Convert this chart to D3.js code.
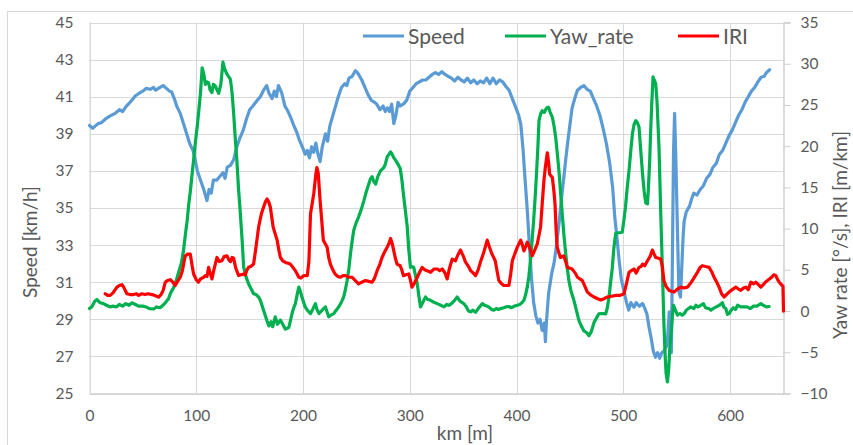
<!DOCTYPE html>
<html>
<head>
<meta charset="utf-8">
<script src="https://cdn.jsdelivr.net/npm/d3@7"></script>
<style>
  body { margin: 0; background: #fff; }
  svg text { font-family: Lato, "Open Sans", sans-serif; fill: #595959; }
</style>
</head>
<body>
<svg width="853" height="445"></svg>
<script>
    // tick values
    var xTicks = [0, 100, 200, 300, 400, 500, 600];
    var speedTicks = [25, 27, 29, 31, 33, 35, 37, 39, 41, 43, 45];
    var rightTicks = [-10, -5, 0, 5, 10, 15, 20, 25, 30, 35];
    var seriesNames = ["Speed", "Yaw_rate", "IRI"];

    // [km, km/h]
    var speed = [
        [0,39.45],[3,39.3],[5,39.4],[8,39.55],[11,39.6],[15,39.8],[19,39.95],[24,40.1],[28,40.3],[31,40.2],
        [34,40.45],[38,40.7],[41,40.9],[43,41.05],[47,41.2],[50,41.3],[53,41.45],[57,41.4],[60,41.5],[62,41.35],
        [66,41.5],[69,41.6],[72,41.45],[75,41.3],[77,41.25],[80,40.8],[82,40.45],[85,40.1],[88,39.55],[91,39.0],
        [94,38.45],[97,38.1],[99,37.6],[101,37.0],[104,36.5],[107,36.0],[110,35.4],[112,36.0],[114,35.8],[116,36.5],
        [119,36.5],[122,36.7],[125,36.9],[127,36.6],[129,37.2],[132,37.3],[135,37.6],[138,38.3],[141,38.8],[144,39.2],
        [147,39.8],[150,40.3],[153,40.5],[157,40.8],[160,41.0],[163,41.35],[166,41.6],[168,41.2],[171,40.9],[173,41.3],
        [175,41.0],[177,41.6],[180,41.2],[183,40.5],[186,40.2],[189,39.8],[191,39.5],[194,39.1],[197,38.6],[200,38.2],
        [202,37.9],[204,38.1],[206,37.7],[208,38.3],[210,38.0],[212,38.5],[214,37.9],[216,37.5],[218,38.3],[221,39.0],
        [223,38.6],[225,39.4],[228,40.0],[230,40.4],[233,41.0],[236,41.5],[239,41.7],[241,41.6],[243,42.0],[246,42.1],
        [249,42.4],[251,42.3],[253,42.1],[255,41.9],[258,41.5],[261,41.1],[264,40.8],[267,40.7],[269,40.6],[272,40.3],
        [275,40.5],[277,40.2],[279,40.4],[281,40.2],[283,40.6],[285,39.55],[287,40.0],[289,40.7],[291,40.5],[294,40.6],
        [297,40.8],[300,41.3],[303,41.5],[306,41.7],[309,41.8],[312,41.9],[315,41.9],[318,42.05],[321,42.2],[324,42.3],
        [327,42.2],[330,42.35],[333,42.2],[336,42.1],[339,42.0],[342,41.85],[345,42.05],[348,41.9],[351,41.8],[354,42.0],
        [357,41.75],[360,41.9],[363,41.7],[366,41.85],[369,41.75],[372,42.0],[375,41.7],[378,42.0],[381,41.7],[384,41.9],
        [387,41.8],[390,41.55],[393,41.35],[396,40.9],[399,40.45],[402,40.0],[404,39.5],[406,38.2],[408,36.5],[410,34.9],
        [412,33.0],[414,31.2],[416,29.9],[418,29.2],[420,28.8],[422,29.0],[424,28.4],[426,28.8],[427,27.8],[428,28.9],
        [430,30.4],[433,31.5],[435,32.0],[437,32.8],[440,34.3],[442,35.5],[444,36.5],[446,37.6],[448,38.6],[450,39.5],
        [452,40.4],[455,41.0],[457,41.35],[460,41.5],[463,41.6],[466,41.4],[469,41.3],[472,40.9],[475,40.5],[478,40.0],
        [481,39.3],[484,38.5],[487,37.5],[490,36.1],[492,34.5],[494,33.4],[496,32.2],[498,31.2],[501,30.4],[503,29.9],
        [505,29.5],[507,29.9],[510,29.65],[512,29.9],[515,29.7],[518,29.85],[520,29.6],[522,29.3],[524,28.6],[526,28.0],
        [528,27.3],[530,26.95],[532,27.2],[534,26.9],[536,27.2],[538,27.3],[541,27.6],[543,29.4],[545,27.2],[547,38.0],
        [548,40.1],[549,38.0],[552,30.5],[553.5,30.2],[556,33.5],[557,34.3],[559,34.8],[562,35.1],[564,35.5],[566,35.8],
        [569,35.7],[572,36.0],[575,36.2],[578,36.6],[581,36.8],[584,37.2],[587,37.4],[590,37.9],[593,38.1],[596,38.5],
        [599,38.9],[602,39.2],[605,39.6],[608,40.0],[611,40.3],[614,40.7],[617,41.0],[620,41.3],[623,41.5],[626,41.8],
        [629,42.05],[632,42.1],[634,42.3],[636,42.4],[637,42.45]
    ];

    // [km, deg/s]
    var yawRate = [
        [0,0.3],[2,0.5],[5,1.2],[7,1.4],[10,1.0],[13,0.9],[16,0.7],[19,0.5],[22,0.6],[25,0.5],[28,0.8],[31,0.6],
        [34,0.9],[37,0.7],[40,1.0],[43,0.8],[46,0.6],[50,0.6],[53,0.5],[56,0.3],[60,0.25],[63,0.5],[66,0.4],[68,0.6],
        [71,1.0],[74,1.5],[76,2.2],[79,2.9],[81,3.6],[83,4.5],[86,5.8],[88,7.3],[90,9.5],[91.5,11.0],[93,13.0],
        [94.5,14.6],[96,16.5],[97.5,18.3],[99,20.3],[101,22.5],[102.5,24.5],[104,26.5],[105.5,29.5],[107,28.8],
        [108.5,27.5],[110,27.8],[111.5,27.7],[113,26.8],[114.7,26.5],[116,27.5],[117.8,27.3],[119.5,26.8],[121,26.4],
        [123,27.5],[125,30.2],[126.5,29.4],[128.5,28.8],[130,28.5],[132,28.1],[133.5,26.5],[135,24.0],[136.5,21.0],
        [138,18.3],[139.5,15.0],[141.3,11.8],[143,8.5],[144.4,5.3],[147,4.0],[149,3.3],[151,2.8],[153.7,2.1],[156,2.0],
        [158.4,1.7],[160,1.3],[163,0.1],[165,-0.7],[166.3,-1.2],[168,-1.8],[170,-1.3],[171.5,-1.9],[174,-0.7],[176,-1.6],
        [178.8,-1.1],[181,-1.6],[183.5,-2.2],[185,-2.1],[186.6,-2.0],[188,-1.3],[189.7,-0.3],[191,0.3],[192.8,0.9],
        [194.5,2.0],[196,2.9],[197.5,2.4],[199,1.7],[201,0.9],[202,0.5],[204,0.1],[207,-0.3],[209,0.2],[211.6,0.9],
        [213,0.2],[215,-0.3],[217.9,0.1],[221,0.5],[222.5,-0.1],[224,-0.7],[226,-0.5],[228.8,-0.3],[231,0.1],[233.4,0.5],
        [236,1.1],[238,1.7],[239.5,2.5],[241.3,3.7],[243,5.2],[244.4,6.9],[246,8.5],[247.5,9.8],[250,10.8],[252,11.4],
        [254.5,12.3],[257,13.4],[259.5,14.6],[261.6,15.4],[263,16.0],[264.7,16.3],[266,15.8],[268,15.4],[270,16.3],
        [272.5,17.0],[275.6,17.4],[277,17.8],[278.8,18.7],[280.5,19.0],[282,19.3],[283.5,19.0],[285,18.6],[286.6,18.3],
        [289,17.8],[291,17.3],[292.5,16.0],[294,14.2],[296,12.0],[297.6,10.2],[299,7.5],[300.6,5.3],[302,5.4],[303.7,5.3],
        [305,4.5],[307,3.3],[308.5,1.8],[310,0.5],[312,1.0],[314.7,1.7],[317,1.4],[319.4,1.3],[322,1.1],[325.7,0.9],
        [329,0.7],[332,0.5],[334.5,0.8],[336.6,0.7],[339,0.9],[342,1.3],[344.4,1.7],[347,1.2],[350.6,0.9],[353,0.5],
        [355,0.0],[357,-0.1],[359,0.1],[361.6,-0.15],[364,0.3],[366,0.6],[368,0.9],[370,0.7],[372,0.6],[374,0.5],
        [376.5,0.2],[378.7,0.1],[381,0.3],[383,0.2],[385,0.3],[388,0.4],[390,0.5],[392.8,0.55],[395,0.4],[398,0.6],
        [400.7,0.7],[403,0.8],[405,1.0],[406.9,1.3],[408.5,2.0],[410,2.9],[411.5,4.2],[413,6.1],[414.5,8.5],[416,11.0],
        [417.5,14.0],[418.8,17.0],[420,20.0],[421,23.1],[422.5,23.9],[424,24.3],[426,24.1],[427.5,24.5],[428.8,24.7],
        [430,24.7],[431.5,24.1],[433.5,23.5],[435,22.5],[436.6,21.1],[438,19.3],[439.7,17.0],[441.3,14.2],[443,11.4],
        [444.5,9.0],[446,7.0],[447.5,5.2],[449,3.7],[451,2.4],[453.7,1.3],[456,0.1],[458.4,-1.15],[461,-1.9],[463,-2.4],
        [465.5,-2.6],[467.8,-3.0],[470,-2.5],[472.5,-1.4],[475,-0.8],[477,-0.35],[480,-0.3],[483.5,-0.35],[485,0.4],
        [486.6,1.7],[488,3.4],[489.7,5.3],[491,7.5],[492.8,9.4],[495,9.5],[497,9.5],[499,9.6],[500.5,11.0],[502,12.6],
        [503.5,14.8],[505.3,17.0],[507,19.5],[508.5,21.5],[510,22.6],[511.6,23.1],[513,22.9],[514.7,22.3],[516,20.0],
        [518,16.6],[519.5,14.5],[521,13.1],[522.6,13.0],[523.5,15.0],[524.7,18.3],[525.5,21.5],[526.6,25.1],[527.8,28.4],
        [529,28.0],[530.3,27.6],[531.5,25.5],[532.5,22.5],[533.4,19.9],[535,12.0],[536.6,4.9],[538,-1.5],[539,-5.0],
        [540,-7.5],[541.3,-8.6],[542.5,-7.0],[543.5,-4.5],[544.4,-3.2],[546,-0.5],[547,0.7],[548.5,0.2],[550.7,-0.5],
        [553,-0.3],[555,-0.5],[557,-0.3],[559,0.1],[561,0.3],[563,0.5],[566,0.3],[568,0.7],[570,0.5],[572.5,0.7],
        [575,0.9],[577,0.4],[580,0.3],[582,0.1],[584,0.3],[587,0.5],[590,0.7],[592.8,1.0],[594,0.5],[596,0.3],
        [597.5,-0.4],[599,-0.3],[601,0.1],[603,0.4],[605,0.2],[607,0.7],[610,0.5],[613,0.5],[616,0.5],[619,0.3],
        [622,0.6],[625,0.6],[628.8,0.9],[631,0.7],[634,0.5],[636.5,0.55]
    ];

    // [km, m/km]
    var iri = [
        [14.7,2.1],[17,1.9],[19.4,1.9],[22,2.2],[25.7,2.9],[28,3.1],[30.4,3.2],[32,2.9],[35,2.1],[38,2.0],[41.2,2.0],
        [44,2.1],[46,1.9],[49,2.1],[52,2.0],[55,2.1],[58.5,2.0],[61,1.9],[63,1.8],[64.7,1.7],[67,2.0],[69,2.5],[71,3.5],
        [73,3.7],[75.7,3.8],[78,3.5],[80.3,3.1],[82,3.5],[85,4.1],[87,4.9],[89.7,6.7],[92,6.9],[94.4,6.9],[96,5.6],
        [97.5,4.5],[100,3.8],[102,3.5],[104,3.9],[107,4.1],[108.5,4.3],[110,4.2],[111.6,5.3],[113,4.6],[114.7,3.9],
        [116.5,5.0],[119.4,6.5],[121.5,6.0],[124,6.1],[126,6.6],[128.8,6.7],[130.5,6.2],[132,6.0],[133.5,6.5],[135,6.4],
        [137,5.2],[139.7,4.3],[142,4.4],[144.4,4.5],[146,4.4],[147.5,5.0],[149,5.3],[151,5.4],[153.7,5.7],[156,7.8],
        [158.4,10.2],[161,11.8],[163,12.6],[165,13.3],[166.3,13.6],[168,13.2],[169.4,12.6],[172,10.2],[175.7,8.6],
        [177.5,7.3],[178.8,6.5],[181,6.1],[183.5,5.9],[186,5.8],[188,5.7],[190.5,5.3],[192.8,4.9],[194.5,4.5],[196,4.1],
        [198,4.0],[200.6,4.3],[204,4.3],[205.5,6.0],[207,11.8],[210,14.2],[212,16.6],[213,17.4],[214.2,16.8],[216,13.4],
        [217.5,11.0],[219,8.6],[222.6,7.75],[224,6.5],[225.6,5.7],[227.5,5.1],[230,4.5],[232.5,4.2],[235,4.1],
        [237.5,4.3],[239.7,4.3],[243,4.1],[246,4.1],[249,3.7],[252,3.3],[255,3.5],[258.4,3.7],[261.5,3.6],[264.7,3.5],
        [267,4.0],[269.4,4.9],[272,5.7],[274,6.5],[276.5,7.2],[278.8,7.75],[280.5,8.2],[282,8.8],[283.5,8.2],[285,7.3],
        [286.5,6.4],[288,5.7],[291,5.5],[292.5,5.0],[294,4.3],[296.5,4.4],[299,4.5],[300.5,3.8],[302,2.9],[304,3.3],
        [307,4.1],[309.5,4.8],[311.6,5.3],[314,5.0],[316,4.9],[319.4,4.7],[322.5,5.1],[325.7,5.1],[328,4.9],[330.4,5.1],
        [333,4.6],[335,3.9],[337,5.1],[339.7,6.3],[342.8,6.1],[345,6.8],[347.5,7.4],[350,6.7],[352,6.0],[355,5.4],
        [357,4.9],[359.5,4.6],[361.6,4.3],[364,5.0],[366.3,6.0],[369,7.0],[372.5,8.6],[374.5,7.8],[377,6.9],[380,6.1],
        [381.5,5.0],[383.4,3.7],[386,3.3],[388,3.1],[392.8,3.1],[394.5,4.5],[396,6.1],[398.5,7.0],[400.7,7.75],
        [403.8,8.6],[405.5,8.0],[406.9,7.3],[408.5,7.8],[410,8.35],[412.5,7.6],[414.7,6.7],[417,7.4],[419.4,8.15],
        [421,9.2],[422.5,10.2],[424,13.0],[425.6,15.8],[427,17.5],[428.8,19.2],[430,18.0],[431,16.6],[433.5,16.2],
        [435,14.5],[436,13.0],[437,10.0],[438,7.75],[441,6.5],[444,6.7],[446,6.0],[447.5,5.3],[452,5.1],[455,4.6],
        [457,4.1],[461.6,3.7],[464,3.0],[466.3,2.3],[469,2.0],[472.5,1.7],[476,1.5],[478.8,1.35],[482,1.5],[485,1.7],
        [489,1.8],[492.8,1.9],[497,1.9],[500.6,2.1],[503,3.4],[505.3,4.7],[507.5,4.9],[510,5.1],[512,4.6],[514.7,5.3],
        [516.5,5.4],[518,5.7],[520,5.5],[522.6,6.1],[525,6.6],[527.2,7.4],[528.5,7.0],[530.3,6.5],[533,6.4],[535,6.3],
        [536.5,5.4],[538,3.7],[540,3.0],[543,2.5],[545,2.4],[547.5,2.3],[550,2.6],[553.8,2.9],[557,2.8],[560,2.9],
        [562.5,3.3],[564.7,3.7],[567,4.2],[569.4,4.7],[572,5.3],[574,5.5],[577,5.4],[580.3,5.3],[583,4.7],[585,4.1],
        [587.5,3.5],[589.7,2.9],[592,2.1],[594.4,1.7],[596.5,2.0],[599,2.3],[602,2.6],[605.3,2.9],[607.5,2.7],[610,2.5],
        [612.5,2.8],[614.7,2.9],[617,2.6],[619.4,3.5],[622,3.3],[624,3.5],[626.5,3.2],[628.8,2.9],[631,3.2],[633,3.5],
        [635,3.7],[638,4.0],[641,4.4],[642.8,4.3],[644.5,3.8],[646,3.5],[649.5,3.0],[650,0]
    ];

    var svg = d3.select("svg");
    var plotLeft = 89.5, plotRight = 783.5, plotTop = 22.5, plotBottom = 393.5;

    var x = d3.scaleLinear().domain([0, 650]).range([plotLeft, plotRight]);
    var yL = d3.scaleLinear().domain([25, 45]).range([plotBottom, plotTop]);
    var yR = d3.scaleLinear().domain([-10, 35]).range([plotBottom, plotTop]);

    // chart area border
    svg.append("rect")
        .attr("x", 7.5).attr("y", 11.5)
        .attr("width", 900).attr("height", 500)
        .attr("fill", "#fff").attr("stroke", "#d9d9d9");

    // grid
    svg.append("g").selectAll("line").data(speedTicks).enter().append("line")
        .attr("x1", plotLeft).attr("x2", plotRight)
        .attr("y1", function(d) { return Math.round(yL(d)) + 0.5; })
        .attr("y2", function(d) { return Math.round(yL(d)) + 0.5; })
        .attr("stroke", "#d9d9d9");
    svg.append("g").selectAll("line").data(xTicks).enter().append("line")
        .attr("x1", function(d) { return Math.round(x(d)) + 0.5; })
        .attr("x2", function(d) { return Math.round(x(d)) + 0.5; })
        .attr("y1", plotTop).attr("y2", plotBottom)
        .attr("stroke", "#d9d9d9");

    // axes
    var gx = svg.append("g").attr("transform", "translate(0," + plotBottom + ")")
        .call(d3.axisBottom(x).tickValues(xTicks).tickSize(0).tickPadding(16));
    var gl = svg.append("g").attr("transform", "translate(" + plotLeft + ",0)")
        .call(d3.axisLeft(yL).tickValues(speedTicks).tickSize(0).tickPadding(16));
    var gr = svg.append("g").attr("transform", "translate(" + plotRight + ",0)")
        .call(d3.axisRight(yR).tickValues(rightTicks).tickSize(7).tickPadding(10));

    [gx, gl, gr].forEach(function(g) {
        g.select(".domain").attr("stroke", "#d0d0d0").attr("stroke-width", 1.5);
        g.selectAll(".tick line").attr("stroke", "#d0d0d0");
        g.selectAll(".tick text").attr("fill", "#595959")
            .style("font-size", "15.5px")
            .style("font-family", "Lato, 'Open Sans', sans-serif");
    });
    gl.select(".domain").attr("stroke", "#d9d9d9").attr("stroke-width", 1);

    // axis titles
    svg.append("text").attr("x", 465).attr("y", 440)
        .attr("text-anchor", "middle").style("font-size", "19px").text("km [m]");
    svg.append("text").attr("transform", "translate(37,242) rotate(-90)")
        .attr("text-anchor", "middle").style("font-size", "19px").text("Speed [km/h]");
    svg.append("text").attr("transform", "translate(847,235) rotate(-90)")
        .attr("text-anchor", "middle").style("font-size", "19px").text("Yaw rate [°/s], IRI [m/km]");

    // series
    var colors = ["#5b9bd5", "#00b050", "#ff0000"];
    var lineL = d3.line().x(function(d) { return x(d[0]); }).y(function(d) { return yL(d[1]); });
    var lineR = d3.line().x(function(d) { return x(d[0]); }).y(function(d) { return yR(d[1]); });

    var plot = svg.append("g").attr("fill", "none").attr("stroke-width", 3.2)
        .attr("stroke-linejoin", "round").attr("stroke-linecap", "round");
    plot.append("path").datum(speed).attr("d", lineL).attr("stroke", colors[0]);
    plot.append("path").datum(yawRate).attr("d", lineR).attr("stroke", colors[1]);
    plot.append("path").datum(iri).attr("d", lineR).attr("stroke", colors[2]);

    // legend
    var legendX = [363, 505, 678];
    var legend = svg.append("g").selectAll("g").data(seriesNames).enter().append("g")
        .attr("transform", function(d, i) { return "translate(" + legendX[i] + ",36)"; });
    legend.append("line").attr("x1", 0).attr("x2", 41)
        .attr("stroke", function(d, i) { return colors[i]; }).attr("stroke-width", 3);
    legend.append("text").attr("x", 45).attr("dy", "0.36em")
        .style("font-size", "21px").text(function(d) { return d; });
</script>
</body>
</html>
